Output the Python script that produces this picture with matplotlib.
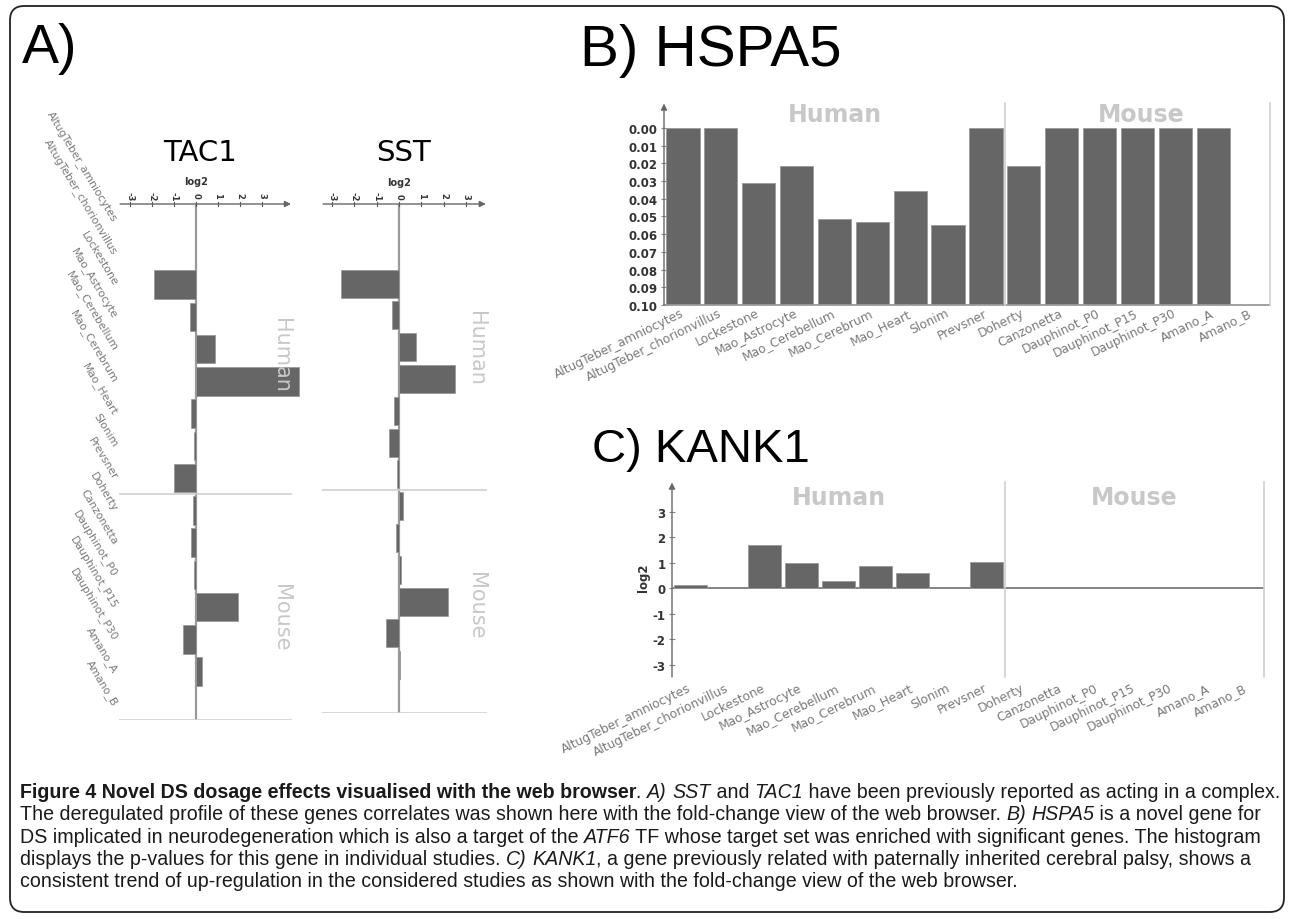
import numpy as np
import matplotlib
matplotlib.use("Agg")
import matplotlib.pyplot as plt
from matplotlib.patches import FancyBboxPatch
from matplotlib.font_manager import FontProperties

# studies shown on every panel (first 9 human, last 7 mouse)
studies = ["AltugTeber_amniocytes", "AltugTeber_chorionvillus", "Lockestone",
           "Mao_Astrocyte", "Mao_Cerebellum", "Mao_Cerebrum", "Mao_Heart",
           "Slonim", "Prevsner", "Doherty", "Canzonetta", "Dauphinot_P0",
           "Dauphinot_P15", "Dauphinot_P30", "Amano_A", "Amano_B"]
n_human = 9

nan = np.nan
# A) fold change (log2)
tac1_log2 = [nan, nan, -1.9, -0.27, 0.87, 4.7, -0.23, -0.1, -1.0,
             -0.15, -0.25, -0.08, 1.9, -0.6, 0.25, nan]
sst_log2 = [nan, nan, -2.6, -0.3, 0.76, 2.5, -0.22, -0.45, -0.1,
            0.2, -0.15, 0.1, 2.2, -0.6, 0.05, nan]
# B) p-values
hspa5_pval = [0.0, 0.0, 0.031, 0.0215, 0.0515, 0.053, 0.0355, 0.055, 0.0,
              0.0215, 0.0, 0.0, 0.0, 0.0, 0.0, nan]
# C) fold change (log2)
kank1_log2 = [0.1, nan, 1.7, 1.0, 0.28, 0.87, 0.6, nan, 1.02,
              nan, nan, nan, nan, nan, nan, nan]

fold_ticks = [-3, -2, -1, 0, 1, 2, 3]
pval_ticks = [0.00, 0.01, 0.02, 0.03, 0.04, 0.05, 0.06, 0.07, 0.08, 0.09, 0.10]

BAR = "#666666"
BAR_EDGE = "#9a9a9a"
GROUP = "#c8c8c8"
LABEL = "#7a7a7a"
narrow = ["Liberation Sans Narrow", "Liberation Sans", "DejaVu Sans"]

W, H = 1290, 920
fig = plt.figure(figsize=(W / 100, H / 100), dpi=100)


def pax(x0, y0, x1, y1):
    # axes placed by pixel box (top-left origin)
    ax = fig.add_axes([x0 / W, 1 - y1 / H, (x1 - x0) / W, (y1 - y0) / H])
    ax.patch.set_visible(False)
    for s in ax.spines.values():
        s.set_visible(False)
    return ax


pos = np.arange(len(studies)) + 0.5
arrow = dict(arrowstyle="-|>", color="#666666", lw=1.0, mutation_scale=9,
             shrinkA=0, shrinkB=0)


# ---------- A) horizontal fold-change panels ----------
def fold_panel(x0, x1, bottom, zero_px, unit_px, values, title, show_labels, hum_y, mou_y):
    ax = pax(x0, 205, x1, bottom)
    lo = (x0 - zero_px) / unit_px
    hi = (x1 - zero_px) / unit_px
    ax.set_xlim(lo, hi)
    ax.set_ylim(16, 0)
    ax.set_xticks([])
    ax.set_yticks([])
    v = np.array(values)
    m = ~np.isnan(v)
    ax.barh(pos[m], v[m], height=0.88, color=BAR, edgecolor=BAR_EDGE, lw=0.6, zorder=2)
    ax.plot([0, 0], [0, 16], color="#9a9a9a", lw=1.6, zorder=1)
    a_end = hi - 0.5
    ax.plot([lo, a_end], [n_human, n_human], color="#d0d0d0", lw=1.2)
    ax.plot([lo, a_end], [16, 16], color="#d0d0d0", lw=1.2)
    ax.annotate("", xy=(a_end, 0), xytext=(lo + 0.05, 0), arrowprops=arrow,
                annotation_clip=False)
    for t in fold_ticks:
        ax.plot([t, t], [-0.07, 0.07], color="#555555", lw=0.8, clip_on=False)
        ax.text(t, -0.27, str(t), rotation=-90, ha="center", va="center",
                fontsize=6, fontweight="bold", color="#333333", clip_on=False)
    ax.text(0, -0.7, "log2", ha="center", va="center", fontsize=7,
            fontweight="bold", color="#333333", clip_on=False)
    ax.text(0.2, -1.62, title, ha="center", va="center", fontsize=21, clip_on=False)
    gx = hi - 0.95
    ax.text(gx, hum_y, "Human", rotation=-90, ha="center", va="center",
            fontsize=15, color=GROUP, clip_on=False)
    ax.text(gx, mou_y, "Mouse", rotation=-90, ha="center", va="center",
            fontsize=15, color=GROUP, clip_on=False)
    if show_labels:
        lx = (115 - zero_px) / unit_px
        for p, name in zip(pos, studies):
            ax.text(lx, p, name, rotation=-59, rotation_mode="anchor", ha="right",
                    va="center", fontsize=7.8, color=LABEL, clip_on=False)
    return ax


fold_panel(119, 302, 721, 196, 22.0, tac1_log2, "TAC1", True, 4.65, 12.8)
fold_panel(322, 497, 714, 399, 22.3, sst_log2, "SST", False, 4.5, 12.6)

# ---------- B) HSPA5 p-values ----------
axB = pax(664, 104, 1270, 306)
axB.set_xlim(0, 16)
axB.set_ylim(0.10, -0.0141)
p = np.array(hspa5_pval)
m = ~np.isnan(p)
axB.bar(pos[m], 0.10 - p[m], bottom=p[m], width=0.88, color=BAR,
        edgecolor=BAR_EDGE, lw=0.6, zorder=2)
axB.annotate("", xy=(0, -0.0138), xytext=(0, 0.10), arrowprops=arrow,
             annotation_clip=False)
axB.plot([0, 16], [0.10, 0.10], color="#9a9a9a", lw=1.3, clip_on=False)
axB.plot([n_human, n_human], [0.10, -0.0141], color="#d0d0d0", lw=1.2, clip_on=False)
axB.plot([16, 16], [0.10, -0.0141], color="#d0d0d0", lw=1.2, clip_on=False)
axB.set_yticks(pval_ticks, [f"{t:.2f}" for t in pval_ticks], fontsize=8.5,
               fontweight="bold", color="#333333")
axB.tick_params(axis="y", direction="inout", length=5, color="#888888", pad=2)
axB.set_xticks(pos, studies, rotation=26, ha="right", va="center",
               rotation_mode="anchor", fontsize=8.8, color=LABEL)
axB.tick_params(axis="x", length=0, pad=5)
axB.text(4.5, -0.0079, "Human", ha="center", va="center", fontsize=17,
         fontweight="bold", color=GROUP)
axB.text(12.6, -0.0079, "Mouse", ha="center", va="center", fontsize=17,
         fontweight="bold", color=GROUP)

# ---------- C) KANK1 fold change ----------
axC = pax(672, 483, 1264, 678)
axC.set_xlim(0, 16)
axC.set_ylim(-3.49, 4.16)
k = np.array(kank1_log2)
m = ~np.isnan(k)
axC.bar(pos[m], k[m], width=0.89, color=BAR, edgecolor=BAR_EDGE, lw=0.6, zorder=2)
axC.plot([0, 16], [0, 0], color="#7a7a7a", lw=1.3, zorder=1)
axC.annotate("", xy=(0, 4.14), xytext=(0, -3.49), arrowprops=arrow,
             annotation_clip=False)
axC.plot([n_human, n_human], [-3.49, 4.16], color="#d0d0d0", lw=1.2, clip_on=False)
axC.plot([16, 16], [-3.49, 4.16], color="#d0d0d0", lw=1.2, clip_on=False)
axC.set_yticks(fold_ticks, [str(t) for t in fold_ticks], fontsize=8.5,
               fontweight="bold", color="#333333")
axC.tick_params(axis="y", direction="inout", length=5, color="#888888", pad=2)
axC.text(-0.78, 0.43, "log2", rotation=90, ha="center", va="center",
         fontsize=8.5, fontweight="bold", color="#333333")
axC.set_xticks(pos, studies, rotation=26, ha="right", va="center",
               rotation_mode="anchor", fontsize=8.8, color=LABEL)
axC.tick_params(axis="x", length=0, pad=7)
axC.text(4.5, 3.57, "Human", ha="center", va="center", fontsize=17,
         fontweight="bold", color=GROUP)
axC.text(12.5, 3.57, "Mouse", ha="center", va="center", fontsize=17,
         fontweight="bold", color=GROUP)

# ---------- panel letters ----------
fig.text(22 / W, 1 - 63 / H, "A)", family=narrow, fontsize=40, va="baseline")
fig.text(580 / W, 1 - 66 / H, "B) HSPA5", family=narrow, fontsize=42, va="baseline")
fig.text(592 / W, 1 - 462 / H, "C) KANK1", family=narrow, fontsize=34, va="baseline")

# ---------- caption ----------
caption = [
    [("Figure 4 Novel DS dosage effects visualised with the web browser", "b"),
     (". ", "n"), ("A)", "i"), (" ", "n"), ("SST", "i"), (" and ", "n"),
     ("TAC1", "i"), (" have been previously reported as acting in a complex.", "n")],
    [("The deregulated profile of these genes correlates was shown here with the "
      "fold-change view of the web browser. ", "n"), ("B)", "i"), (" ", "n"),
     ("HSPA5", "i"), (" is a novel gene for", "n")],
    [("DS implicated in neurodegeneration which is also a target of the ", "n"),
     ("ATF6", "i"), (" TF whose target set was enriched with significant genes. "
                     "The histogram", "n")],
    [("displays the p-values for this gene in individual studies. ", "n"), ("C)", "i"),
     (" ", "n"), ("KANK1", "i"), (", a gene previously related with paternally "
                                  "inherited cerebral palsy, shows a", "n")],
    [("consistent trend of up-regulation in the considered studies as shown with "
      "the fold-change view of the web browser.", "n")],
]

renderer = fig.canvas.get_renderer()


def fprop(style, size):
    return FontProperties(family=narrow, size=size,
                          weight="bold" if style == "b" else "normal",
                          style="italic" if style == "i" else "normal")


def seg_width(txt, style, size):
    fp = fprop(style, size)
    w1 = renderer.get_text_width_height_descent("|" + txt + "|", fp, False)[0]
    w0 = renderer.get_text_width_height_descent("||", fp, False)[0]
    return w1 - w0


# fit the first line to the panel width
line_w = sum(seg_width(t, s, 10) for t, s in caption[0])
cap_size = 10 * 1258 / line_w

for i, line in enumerate(caption):
    x = 20.0
    y = 798 + i * 22.3
    for txt, style in line:
        fp = fprop(style, cap_size)
        fig.text(x / W, 1 - y / H, txt, fontproperties=fp, va="baseline",
                 color="#1a1a1a")
        x += seg_width(txt, style, cap_size)

# ---------- outer frame ----------
frame = FancyBboxPatch((10 / W, 1 - 913 / H), 1274 / W, 906 / H,
                       boxstyle="round,pad=0,rounding_size=0.011",
                       mutation_aspect=W / H, transform=fig.transFigure,
                       fill=False, ec="#222222", lw=1.3)
fig.patches.append(frame)

fig.savefig("out.png", dpi=100)
